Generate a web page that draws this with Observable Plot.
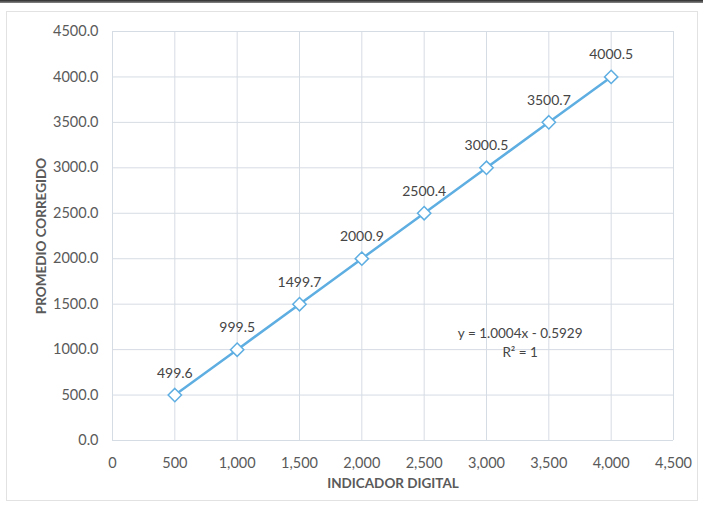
<!DOCTYPE html>
<html>
<head>
<meta charset="utf-8">
<script src="https://cdn.jsdelivr.net/npm/d3@7"></script>
<script src="https://cdn.jsdelivr.net/npm/@observablehq/plot@0.6"></script>
<style>
  html, body { margin: 0; padding: 0; background: #fff; }
  #wrap { position: relative; width: 703px; height: 511px; overflow: hidden; }
  #wrap svg { display: block; }
  #topband { position: absolute; left: 0; top: 0; width: 703px; height: 3px; background: linear-gradient(#2a2a2a, #888); }
  #border { position: absolute; left: 6px; top: 11px; width: 690px; height: 488px; border: 1px solid #e2e2e2; pointer-events: none; }
</style>
</head>
<body>
<div id="wrap"><div id="topband"></div><div id="border"></div></div>
<script>
// Data
const indicador = [500, 1000, 1500, 2000, 2500, 3000, 3500, 4000];
const promedio = [499.6, 999.5, 1499.7, 2000.9, 2500.4, 3000.5, 3500.7, 4000.5];
const xTicks = [0, 500, 1000, 1500, 2000, 2500, 3000, 3500, 4000, 4500];
const yTicks = [0, 500, 1000, 1500, 2000, 2500, 3000, 3500, 4000, 4500];
const trendText = ["y = 1.0004x - 0.5929", "R² = 1"];
const trendAt = {x: 3270, y: 1090};

const data = indicador.map((x, i) => ({x, y: promedio[i]}));

const blue = "#5eaee2";
const textGray = "#5a5a5a";
const font = "Lato, 'Open Sans', sans-serif";

const chart = Plot.plot({
  width: 703,
  height: 511,
  marginLeft: 112,
  marginRight: 30,
  marginTop: 31,
  marginBottom: 71,
  style: {fontFamily: font, fontSize: "13px", color: textGray, background: "transparent"},
  x: {domain: [0, 4500]},
  y: {domain: [0, 4500]},
  marks: [
    Plot.gridX(xTicks, {stroke: "#d6dce4", strokeOpacity: 1}),
    Plot.gridY(yTicks, {stroke: "#d6dce4", strokeOpacity: 1}),
    Plot.axisX(xTicks, {
      tickSize: 0, tickPadding: 17, tickFormat: d3.format(","),
      fontSize: 14.5, fill: textGray,
      label: "INDICADOR DIGITAL", labelAnchor: "center", labelOffset: 47, labelArrow: "none"
    }),
    Plot.axisY(yTicks, {
      tickSize: 0, tickPadding: 14, tickFormat: d3.format(".1f"),
      fontSize: 14.5, fill: textGray,
      label: "PROMEDIO CORREGIDO", labelAnchor: "center", labelOffset: 76, labelArrow: "none"
    }),
    Plot.line(data, {x: "x", y: "y", stroke: blue, strokeWidth: 2.5}),
    Plot.dot(data, {x: "x", y: "y", symbol: "diamond2", r: 6, stroke: blue, strokeWidth: 1.5, fill: "white"}),
    Plot.text(data, {x: "x", y: "y", text: d => d.y.toFixed(1), dy: -22, fontSize: 14, fill: "#454545"}),
    Plot.text([trendText.join("\n")], {x: trendAt.x, y: trendAt.y, text: d => d, fontSize: 13.5, fill: "#454545", lineHeight: 1.4})
  ]
});
// bold axis titles
chart.querySelectorAll("g[aria-label='x-axis label'] text, g[aria-label='y-axis label'] text").forEach(t => {
  t.setAttribute("font-weight", "bold");
  t.setAttribute("font-size", "13.5");
  t.setAttribute("fill", textGray);
});
document.getElementById("wrap").prepend(chart);
</script>
</body>
</html>
